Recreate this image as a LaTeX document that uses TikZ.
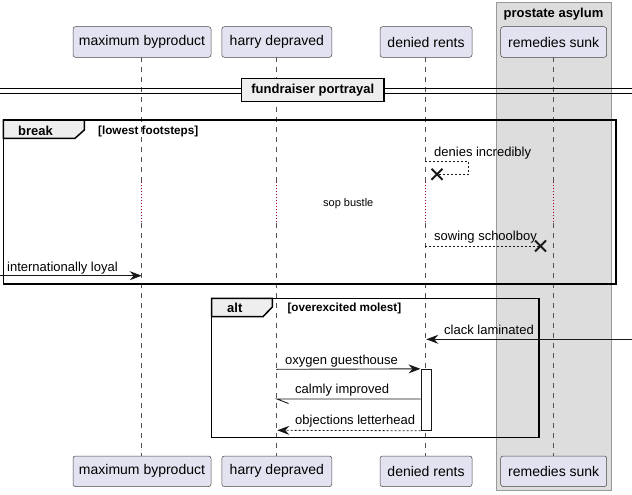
\documentclass[tikz,border=0pt]{standalone}
\usepackage{fontspec}
\setmainfont{Liberation Sans}
\usetikzlibrary{arrows.meta,calc}
\definecolor{partfill}{HTML}{E2E2F0}
\definecolor{partline}{HTML}{181818}
\definecolor{grpfill}{HTML}{DDDDDD}
\definecolor{grpline}{HTML}{999999}
\definecolor{tabfill}{HTML}{EEEEEE}
\definecolor{delayred}{HTML}{A80036}
\tikzset{
  part/.style={draw=partline!80, fill=partfill, rounded corners=2.5pt, line width=0.5pt,
    minimum height=30.6pt, inner sep=0pt, font=\fontsize{14}{16}\selectfont},
  msgtext/.style={font=\fontsize{13}{15}\selectfont, inner sep=0pt, anchor=base west},
  condtext/.style={font=\fontsize{11.7}{14}\selectfont\bfseries, inner sep=0pt, anchor=base west},
  grplabel/.style={font=\fontsize{13}{15}\selectfont\bfseries, inner sep=0pt, anchor=base west},
  life/.style={draw=partline!75, dash pattern=on 5pt off 5pt, line width=0.6pt},
  delayline/.style={draw=delayred, dash pattern=on 1pt off 2pt, line width=0.9pt},
  msgline/.style={draw=partline, line width=0.9pt},
  dashmsg/.style={draw=partline, line width=0.8pt, dash pattern=on 2pt off 2pt},
  tip/.style={-{Stealth[length=12pt,width=9pt,inset=4pt]}},
  frame/.style={draw=black, line width=1.5pt},
  tabshape/.style={draw=black, line width=1.5pt, fill=tabfill},
  destroy/.style={draw=partline, line width=2pt},
  actbar/.style={draw=partline, fill=white, line width=0.9pt, inner sep=0pt},
}
\begin{document}
\begin{tikzpicture}[x=1pt,y=-1pt]
\useasboundingbox (0,0) rectangle (632,495);

% box group
\filldraw[fill=grpfill, draw=grpline, line width=0.6pt] (496,2) rectangle (611,490);
\node[grplabel, anchor=base] (gtitle) at (553.5,17.5) {prostate asylum};

% participants
\node[part, minimum width=138] (mbT) at (142,42) {maximum byproduct};
\node[part, minimum width=110] (hdT) at (276.8,42) {harry depraved};
\node[part, minimum width=92]  (drT) at (426,42) {denied rents};
\node[part, minimum width=106] (rsT) at (553.7,42) {remedies sunk};
\node[part, minimum width=138] (mbB) at (142,471.3) {maximum byproduct};
\node[part, minimum width=110] (hdB) at (276.8,471.3) {harry depraved};
\node[part, minimum width=92]  (drB) at (426,471.3) {denied rents};
\node[part, minimum width=106] (rsB) at (553.7,471.3) {remedies sunk};

% lifeline coordinates
\coordinate (mbL) at (141.7,57.3); \coordinate (mbE) at (141.7,456);
\coordinate (hdL) at (276.3,57.3); \coordinate (hdE) at (276.3,456);
\coordinate (drL) at (425.3,57.3); \coordinate (drE) at (425.3,456);
\coordinate (rsL) at (553.7,57.3); \coordinate (rsE) at (553.7,456);
\foreach \p in {mb,hd,dr,rs}{
  \coordinate (\p D1) at (\p L |- 0,181.7);
  \coordinate (\p D2) at (\p L |- 0,223);
  \draw[life] (\p L) -- (\p D1);
  \draw[delayline] (\p D1) -- (\p D2);
  \draw[life] (\p D2) -- (\p E);
}

% divider
\coordinate (dvL1) at (0,88.5); \coordinate (dvR1) at (632,88.5);
\coordinate (dvL2) at (0,93.5); \coordinate (dvR2) at (632,93.5);
\draw[line width=0.9pt] (dvL1) -- (dvR1);
\draw[line width=0.9pt] (dvL2) -- (dvR2);
\node[draw=black, line width=1.5pt, fill=tabfill, minimum width=142.3, minimum height=23.4,
  inner sep=0pt, font=\fontsize{13}{15}\selectfont\bfseries] (div) at (312.8,90) {fundraiser portrayal};

% break group
\draw[frame] (3.3,120) rectangle (616,284);
\draw[tabshape] (3.3,120) -- (84.3,120) -- (84.3,130) -- (75,138.3) -- (3.3,138.3) -- cycle;
\node[grplabel] (brk) at (18,135) {break};
\node[condtext] (brkc) at (98,134) {[lowest footsteps]};

% denies incredibly (self message, destroyed)
\coordinate (di1) at (425.3,161.7);
\coordinate (di2) at (468.7,161.7);
\coordinate (di3) at (468.7,174.3);
\coordinate (dix) at (437,174.3);
\draw[dashmsg] (di1) -- (di2) -- (di3) -- (dix);
\node[msgtext] (dit) at (434,156) {denies incredibly};

% delay
\node[font=\fontsize{11}{13}\selectfont, inner sep=0pt, anchor=base west] (delay) at (323,206.7) {sop bustle};

% sowing schoolboy
\coordinate (ss1) at (425.3,246);
\coordinate (ssx) at (540.5,246);
\draw[dashmsg] (ss1) -- (ssx);
\node[msgtext] (sst) at (434,240.7) {sowing schoolboy};

% internationally loyal
\coordinate (il0) at (0,275.7);
\coordinate (il1) at (141.7,275.7);
\draw[msgline, tip] (il0) -- (il1);
\node[msgtext] (ilt) at (7,271.7) {internationally loyal};

% alt group
\draw[frame] (211.7,298.3) rectangle (539,437.3);
\draw[tabshape] (211.7,298.3) -- (272.3,298.3) -- (272.3,307) -- (263,316.7) -- (211.7,316.7) -- cycle;
\node[grplabel] (altl) at (227,312.7) {alt};
\node[condtext] (altc) at (287.3,311.7) {[overexcited molest]};

% clack laminated
\coordinate (cl0) at (632,339.3);
\coordinate (cl1) at (426.3,339.3);
\draw[msgline, tip] (cl0) -- (cl1);
\node[msgtext] (clt) at (444,334) {clack laminated};

% activation
\node[actbar, minimum width=10.7, minimum height=61] (act) at (426.3,399.8) {};

% oxygen guesthouse
\coordinate (og0) at (276.3,369.3);
\draw[msgline, tip] (og0) -- (act.north west);
\node[msgtext] (ogt) at (285,364) {oxygen guesthouse};

% calmly improved (half arrow)
\coordinate (ci0) at (act.west |- 0,399);
\coordinate (ci1) at (277,399);
\coordinate (cih) at (288.5,403.5);
\draw[msgline] (ci0) -- (ci1) -- (cih);
\node[msgtext] (cit) at (295,393.3) {calmly improved};

% objections letterhead
\coordinate (ol1) at (277.3,430.3);
\draw[dashmsg, tip] (act.south west) -- (ol1);
\node[msgtext] (olt) at (295,424) {objections letterhead};

% destroy marks
\draw[destroy] ($(dix)+(-5.5,-5.5)$) -- ($(dix)+(5.5,5.5)$);
\draw[destroy] ($(dix)+(-5.5,5.5)$) -- ($(dix)+(5.5,-5.5)$);
\draw[destroy] ($(ssx)+(-5.5,-5.5)$) -- ($(ssx)+(5.5,5.5)$);
\draw[destroy] ($(ssx)+(-5.5,5.5)$) -- ($(ssx)+(5.5,-5.5)$);
\end{tikzpicture}
\end{document}
